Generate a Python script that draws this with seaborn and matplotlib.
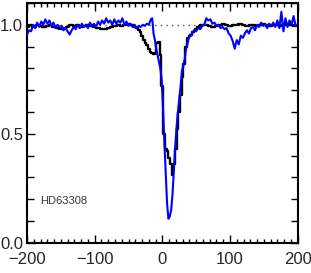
import matplotlib
matplotlib.use("Agg")
import matplotlib.pyplot as plt
import numpy as np
import pandas as pd
import seaborn as sns
from matplotlib.ticker import MultipleLocator, FixedLocator

# observed profile (black histogram)
obs_v = [-200, -195, -190, -185, -180, -175, -170, -165, -160, -155, -150, -145,
         -140, -135, -130, -125, -120, -115, -110, -105, -100, -95, -90, -85,
         -80, -75, -70, -65, -60, -55, -50, -45, -40,
         -37.5, -35, -32.5, -30, -27.5, -25, -22.5, -20, -17.5, -15, -12.5, -10,
         -7.5, -5, -2.5, 0, 2.5, 5, 7.5, 10, 12.5, 15, 17.5, 20, 22.5, 25, 27.5,
         30, 32.5, 35, 37.5, 40, 42.5, 45, 47.5, 50, 52.5, 55, 57.5, 60,
         65, 70, 75, 80, 85, 90, 95, 100, 105, 110, 115, 120, 125, 130, 135,
         140, 145, 150, 155, 160, 165, 170, 175, 180, 185, 190, 195, 200]
obs_flux = [0.99, 1.0, 0.99, 1.0, 0.995, 0.99, 0.995, 1.0, 0.99, 0.985, 0.98, 0.985,
            0.99, 1.0, 0.995, 1.0, 0.99, 0.995, 1.0, 0.995, 0.99, 0.985, 0.98, 0.98,
            0.985, 0.99, 0.995, 1.0, 0.995, 1.0, 1.005, 1.0, 0.99,
            0.985, 0.975, 0.965, 0.95, 0.93, 0.915, 0.905, 0.89, 0.875, 0.87, 0.865, 0.87,
            0.915, 0.92, 0.86, 0.72, 0.50, 0.43, 0.42, 0.39, 0.36, 0.31, 0.36, 0.43, 0.52, 0.60, 0.68,
            0.76, 0.82, 0.90, 0.94, 0.95, 0.955, 0.965, 0.97, 0.98, 0.99, 0.995, 1.0, 1.0,
            1.0, 0.995, 0.99, 0.995, 1.0, 1.005, 1.0, 0.995, 1.0, 1.0, 1.005, 1.0, 0.995, 1.0, 1.0,
            0.995, 1.0, 1.005, 1.0, 0.995, 1.0, 1.0, 0.995, 1.0, 1.005, 1.0, 0.995, 1.0]

# comparison profile (blue)
cmp_v = [-200, -197, -194, -191, -188, -185, -182, -179, -176, -173, -170, -167,
         -164, -161, -158, -155, -152, -149, -146, -143, -140, -137, -134, -131,
         -128, -125, -122, -119, -116, -113, -110, -107, -104, -101, -98, -95,
         -92, -89, -86, -83, -80, -77, -74, -71, -68, -65, -62, -59, -56, -53,
         -50, -47, -44, -41, -38, -35, -32, -29, -26, -23, -20, -17,
         -15, -13, -11, -9, -7, -5, -3, -1, 1, 3, 5, 7, 9, 11, 13, 15, 17, 19,
         21, 23, 25, 27, 29, 31, 33, 35, 37, 39, 41, 43, 45, 47,
         50, 53, 56, 59, 62, 65, 68, 71, 74, 77, 80, 83, 86, 89, 92, 95, 98,
         101, 104, 107, 110, 113, 116, 119, 122, 125, 128, 131, 134, 137, 140,
         143, 146, 149, 152, 155, 158, 161, 164, 167, 170, 173, 176, 179, 182,
         185, 188, 191, 194, 197, 200]
cmp_flux = [0.955, 0.975, 0.97, 1.0, 0.985, 1.01, 0.99, 1.015, 1.0, 1.025, 1.005, 1.02,
            0.995, 1.01, 0.985, 1.0, 0.99, 0.995, 0.975, 0.985, 0.97, 0.955, 0.975, 0.99,
            0.98, 1.0, 0.985, 1.005, 0.99, 1.0, 0.985, 1.01, 0.995, 1.005, 0.99, 1.015,
            1.0, 1.02, 1.005, 1.03, 1.01, 1.02, 1.0, 1.025, 1.005, 1.02, 1.01, 1.03, 1.0, 1.015,
            0.995, 1.005, 0.99, 1.0, 0.985, 0.995, 0.99, 1.0, 0.995, 1.005, 1.0, 1.025,
            1.03, 0.96, 0.93, 0.89, 0.86, 0.83, 0.80, 0.75, 0.62, 0.46, 0.32, 0.18, 0.11, 0.12,
            0.15, 0.22, 0.33, 0.44,
            0.53, 0.60, 0.66, 0.72, 0.79, 0.81, 0.84, 0.89, 0.91, 0.94, 0.955, 0.95, 0.965, 0.975,
            0.97, 0.985, 0.98, 0.995, 1.0, 1.03, 1.02, 1.025, 1.005, 1.01, 0.995, 1.0, 0.985,
            0.99, 0.98, 0.985, 0.96,
            0.95, 0.925, 0.89, 0.93, 0.91, 0.95, 0.94, 0.96, 0.975, 0.96, 0.985, 0.99, 0.975, 1.0,
            0.99, 1.01, 0.995, 1.0, 0.985, 1.005, 0.995, 1.01, 0.99, 1.02, 0.985, 1.06, 0.97, 1.03,
            0.99, 1.02, 1.0, 1.04, 0.995, 1.0]

star_label = "HD63308"

obs = pd.DataFrame({"v": obs_v, "flux": obs_flux})
cmp = pd.DataFrame({"v": cmp_v, "flux": cmp_flux})

sns.set_theme(style="ticks")
plt.rcParams["font.family"] = ["Liberation Sans", "DejaVu Sans"]

fig = plt.figure(figsize=(3.11, 2.73), dpi=100)
ax = fig.add_axes([0.087, 0.111, 0.870, 0.878])

ax.axhline(1.0, color="#555555", linestyle=(0, (1, 3)), linewidth=1.0, zorder=1)
sns.lineplot(data=obs, x="v", y="flux", ax=ax, color="black", linewidth=1.7,
             drawstyle="steps-mid", estimator=None, sort=False, zorder=2)
sns.lineplot(data=cmp, x="v", y="flux", ax=ax, color="#0000ff", linewidth=1.5,
             estimator=None, sort=False, zorder=3)

ax.text(-180, 0.19, star_label, fontsize=8, color="#333333", va="center")

ax.set_xlim(-200, 200)
ax.set_ylim(0, 1.1)
ax.xaxis.set_major_locator(MultipleLocator(100))
ax.xaxis.set_minor_locator(MultipleLocator(10))
ax.yaxis.set_major_locator(FixedLocator([0.0, 0.5, 1.0]))
ax.yaxis.set_minor_locator(MultipleLocator(0.1))
ax.set_yticklabels(["0.0", "0.5", "1.0"])
ax.tick_params(which="both", direction="in", top=True, right=True, labelsize=12,
               color="black", width=1.0)
ax.tick_params(which="major", length=6)
ax.tick_params(which="minor", length=3)
ax.tick_params(axis="y", which="minor", length=5)
ax.tick_params(axis="x", pad=7)
ax.tick_params(axis="y", pad=3)
ax.set_xlabel("")
ax.set_ylabel("")
for s in ax.spines.values():
    s.set_linewidth(1.5)
    s.set_color("black")

fig.savefig("out.png", dpi=100)
